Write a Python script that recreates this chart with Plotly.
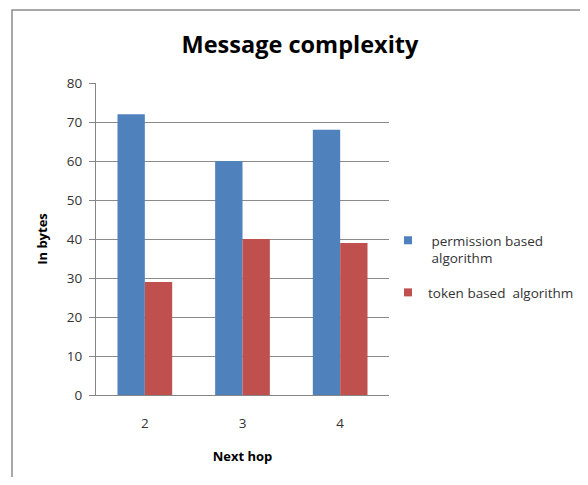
import plotly.graph_objects as go

categories = ["2", "3", "4"]
permission_vals = [72, 60, 68]
token_vals = [29, 40, 39]
y_ticks = [0, 10, 20, 30, 40, 50, 60, 70, 80]
series_names = [" permission based<br> algorithm", "token based  algorithm"]
series_colors = ["#4F81BD", "#C0504D"]

OFF = 8  # page body margin
W, H = 588 - 2 * OFF, 485 - 2 * OFF
# target plot area in page coordinates
PL, PR, PT, PB = 96, 389, 83, 395
L = PL - OFF
R = W - (PR - OFF)
T = PT - OFF
B = H - (PB - OFF)
pw = W - L - R
ph = H - T - B

def px(x):
    return (x - PL) / pw

def py(y):
    return (PB - y) / ph

fig = go.Figure()
for vals, name, col in zip([permission_vals, token_vals], series_names, series_colors):
    fig.add_trace(go.Bar(x=categories, y=vals, name=name, showlegend=False,
                         marker=dict(color=col, line=dict(width=0))))
for i, (name, col) in enumerate(zip(series_names, series_colors)):
    fig.add_trace(go.Scatter(x=[None], y=[None], mode="markers", name=name,
                             legendgroup=f"g{i}",
                             marker=dict(symbol="square", size=8, color=col)))

fig.update_layout(
    width=W, height=H,
    margin=dict(l=L, r=R, t=T, b=B, autoexpand=False),
    paper_bgcolor="white", plot_bgcolor="white",
    barmode="group", bargap=0.44, bargroupgap=0,
    font=dict(family="Open Sans", color="#333333", size=13),
    title=dict(text="<b>Message complexity</b>", xref="container",
               x=(300 - OFF) / W, xanchor="center",
               yref="container", y=1 - (45 - OFF) / H, yanchor="middle",
               font=dict(family="Open Sans", size=23.5, color="black")),
    showlegend=True,
    legend=dict(x=px(388), y=py(225), xanchor="left", yanchor="top",
                font=dict(family="Open Sans", size=13.5, color="#333333"),
                itemwidth=30, tracegroupgap=14, valign="top",
                bgcolor="rgba(0,0,0,0)"),
    xaxis=dict(type="category", showgrid=False, showline=True, linecolor="#868686",
               ticks="", ticklabelstandoff=16, tickfont=dict(size=13.5, color="#333333"),
               title=dict(text="<b>Next hop</b>", standoff=20,
                          font=dict(size=13, color="black"))),
    yaxis=dict(range=[0, 80], tickvals=y_ticks, showgrid=True, gridcolor="#8a8a8a",
               gridwidth=1, showline=True, linecolor="#868686", ticks="outside",
               ticklen=6, tickcolor="#868686", zeroline=False, ticklabelstandoff=4,
               tickfont=dict(size=13.5, color="#333333"),
               title=dict(text="<b>In bytes</b>", standoff=16,
                          font=dict(size=13, color="black"))),
    shapes=[dict(type="rect", xref="paper", yref="paper",
                 x0=px(12), x1=px(640), y0=py(540), y1=py(10),
                 line=dict(color="#8c8c8c", width=1.5), layer="below")],
)

fig.write_html("out.html")
